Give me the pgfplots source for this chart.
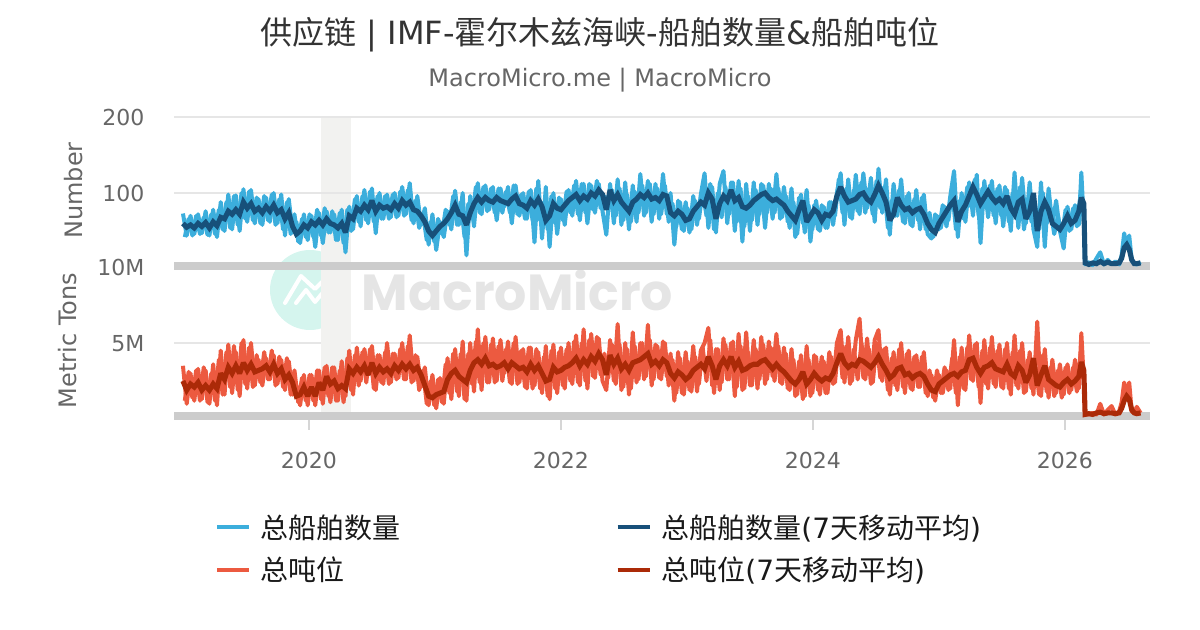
\documentclass[border=0pt]{standalone}
\usepackage{fontspec}
\usepackage{pgfplots}
\usepackage{pgfplotstable}
\pgfplotsset{compat=1.18}
\setmainfont{DejaVu Sans}
\newfontfamily\cjk{Noto Sans CJK SC}
\newfontfamily\wm{Poppins}
\definecolor{cnt}{HTML}{3CAEDC}
\definecolor{cntavg}{HTML}{17507A}
\definecolor{ton}{HTML}{EC5A40}
\definecolor{tonavg}{HTML}{AB2A08}
\definecolor{gridc}{HTML}{E6E6E6}
\definecolor{bandc}{HTML}{CCCCCC}
\definecolor{shade}{HTML}{F2F2F0}
\definecolor{txt}{HTML}{666666}
\pgfplotstableread{
x c t
2019.015 42 1.2
2019.045 66 3.1
2019.075 44 1.4
2019.105 70 3.2
2019.135 46 1.2
2019.165 68 3.4
2019.195 45 1.1
2019.225 72 3.0
2019.255 46 1.2
2019.285 78 3.9
2019.315 52 1.6
2019.345 88 4.4
2019.375 54 2.1
2019.405 96 4.8
2019.435 58 1.9
2019.465 100 5.0
2019.495 66 2.3
2019.525 102 4.7
2019.555 64 2.1
2019.585 94 4.2
2019.615 60 2.4
2019.645 96 4.4
2019.675 64 2.6
2019.705 98 4.5
2019.735 58 2.2
2019.765 92 4.1
2019.795 52 2.1
2019.825 88 4.0
2019.855 46 1.6
2019.885 72 3.2
2019.915 36 1.1
2019.945 66 2.7
2019.975 42 1.2
2020.005 72 2.9
2020.035 42 1.2
2020.065 78 3.2
2020.095 44 1.3
2020.125 80 3.4
2020.155 48 1.5
2020.185 76 3.4
2020.215 38 1.2
2020.245 74 3.2
2020.275 34 1.1
2020.305 78 4.0
2020.335 50 1.9
2020.365 92 4.2
2020.395 62 2.2
2020.425 96 4.4
2020.455 64 2.4
2020.485 102 4.6
2020.515 62 2.0
2020.545 96 4.2
2020.575 66 2.4
2020.605 96 4.4
2020.635 66 2.3
2020.665 98 4.3
2020.695 68 2.6
2020.725 102 4.6
2020.755 70 2.6
2020.785 104 4.8
2020.815 64 2.4
2020.845 90 4.2
2020.875 54 1.9
2020.905 72 3.2
2020.935 38 1.0
2020.965 62 2.5
2020.995 36 0.9
2021.025 66 2.6
2021.055 46 1.1
2021.085 78 3.6
2021.115 58 1.7
2021.145 96 4.3
2021.175 58 1.8
2021.205 88 4.3
2021.235 42 1.3
2021.265 86 4.3
2021.295 68 2.3
2021.325 108 5.1
2021.355 74 2.4
2021.385 108 5.0
2021.415 76 2.4
2021.445 106 4.9
2021.475 74 2.4
2021.505 106 4.8
2021.535 74 2.5
2021.565 102 4.6
2021.595 74 2.4
2021.625 110 5.0
2021.655 72 2.3
2021.685 98 4.5
2021.715 66 2.1
2021.745 102 4.7
2021.775 64 2.0
2021.805 106 4.6
2021.835 64 2.0
2021.865 88 4.1
2021.895 52 1.5
2021.925 96 4.5
2021.955 60 2.0
2021.985 94 4.4
2022.015 64 2.2
2022.045 102 4.6
2022.075 74 2.5
2022.105 110 5.1
2022.135 72 2.4
2022.165 112 5.0
2022.195 74 2.5
2022.225 112 5.2
2022.255 78 2.8
2022.285 116 5.4
2022.315 80 2.9
2022.345 96 4.3
2022.375 78 2.7
2022.405 104 4.9
2022.435 70 2.3
2022.465 106 4.9
2022.495 64 2.1
2022.525 98 4.6
2022.555 62 2.0
2022.585 102 4.8
2022.615 74 2.6
2022.645 110 5.0
2022.675 74 2.8
2022.705 112 5.2
2022.735 72 2.6
2022.765 106 4.8
2022.795 72 2.6
2022.825 110 5.0
2022.855 62 2.2
2022.885 86 3.9
2022.915 56 1.7
2022.945 88 4.0
2022.975 50 1.6
2023.005 80 3.8
2023.035 52 1.8
2023.065 90 4.1
2023.095 66 2.3
2023.125 102 4.7
2023.155 70 2.5
2023.185 112 5.2
2023.215 52 1.7
2023.245 100 4.6
2023.275 68 2.4
2023.305 108 4.9
2023.335 72 2.6
2023.365 114 5.1
2023.395 62 2.1
2023.425 106 4.8
2023.455 56 2.0
2023.485 96 4.4
2023.515 64 2.2
2023.545 104 4.6
2023.575 72 2.6
2023.605 110 4.9
2023.635 74 2.6
2023.665 106 4.7
2023.695 74 2.5
2023.725 106 4.8
2023.755 68 2.3
2023.785 96 4.3
2023.815 54 1.9
2023.845 88 3.9
2023.875 46 1.6
2023.905 98 4.2
2023.935 48 1.5
2023.965 84 3.9
2023.995 52 1.7
2024.025 90 4.1
2024.055 50 1.6
2024.085 82 3.8
2024.115 54 1.7
2024.145 88 4.1
2024.175 70 2.4
2024.205 118 5.3
2024.235 74 2.7
2024.265 106 4.8
2024.295 68 2.3
2024.325 104 4.6
2024.355 76 2.6
2024.385 114 5.0
2024.415 74 2.6
2024.445 106 4.6
2024.475 72 2.4
2024.505 116 5.0
2024.535 80 2.7
2024.565 108 4.6
2024.595 54 1.9
2024.625 90 4.0
2024.655 70 2.2
2024.685 104 4.6
2024.715 62 2.1
2024.745 96 4.3
2024.775 58 2.0
2024.805 92 4.1
2024.835 64 2.1
2024.865 94 4.1
2024.895 52 1.7
2024.925 74 3.2
2024.955 42 1.4
2024.985 70 3.2
2025.015 54 1.7
2025.045 82 3.4
2025.075 64 1.9
2025.105 104 4.0
2025.135 52 1.7
2025.165 90 4.1
2025.195 66 2.0
2025.225 108 4.7
2025.255 82 2.6
2025.285 118 4.9
2025.315 70 2.1
2025.345 106 4.5
2025.375 80 2.3
2025.405 110 4.7
2025.435 70 2.3
2025.465 106 4.5
2025.495 70 2.1
2025.525 108 4.6
2025.555 62 2.0
2025.585 100 4.4
2025.615 66 2.2
2025.645 108 4.5
2025.675 52 1.7
2025.705 92 3.9
2025.735 62 2.0
2025.765 82 3.6
2025.795 52 1.6
2025.825 100 4.2
2025.855 60 1.8
2025.885 78 3.4
2025.915 46 1.5
2025.945 70 3.2
2025.975 42 1.4
2026.005 78 3.4
2026.035 50 1.7
2026.065 80 3.4
2026.095 56 1.8
2026.125 100 4.4
}\rawmid
\pgfplotstableread{
x c a t b
2019.00 73 60 3.5 2.5
2019.03 44 55 1.0 1.9
2019.06 70 58 3.0 2.3
2019.09 46 54 1.2 2.1
2019.12 72 60 3.3 2.4
2019.15 47 56 1.3 1.9
2019.18 76 61 3.2 2.2
2019.21 44 54 1.0 1.9
2019.24 78 62 3.6 2.3
2019.27 42 57 0.9 2.0
2019.30 88 68 4.5 3.0
2019.33 50 66 1.6 2.6
2019.36 98 76 4.9 3.4
2019.39 52 72 1.7 3.0
2019.42 97 78 4.4 3.5
2019.45 50 72 1.5 3.0
2019.48 105 88 5.2 3.7
2019.51 62 80 2.0 3.2
2019.54 104 86 5.0 3.6
2019.57 60 76 2.2 3.1
2019.60 92 80 3.9 3.2
2019.63 58 74 2.2 3.3
2019.66 94 82 4.0 3.5
2019.69 62 76 2.6 3.1
2019.72 100 84 4.2 3.6
2019.75 60 74 2.3 3.0
2019.78 98 78 3.9 3.3
2019.81 44 66 1.9 2.6
2019.84 92 74 3.8 2.9
2019.87 48 56 1.6 2.4
2019.90 62 46 2.2 1.5
2019.93 34 50 0.9 1.6
2019.96 72 58 2.9 2.1
2019.99 38 54 0.9 1.5
2020.02 70 62 2.9 2.1
2020.05 29 58 0.9 1.5
2020.08 74 64 3.2 2.4
2020.11 34 58 1.0 1.9
2020.14 76 66 3.5 2.8
2020.17 48 60 1.1 2.3
2020.20 72 58 3.4 2.5
2020.23 38 54 1.2 2.0
2020.26 78 60 3.8 2.2
2020.29 22 48 1.5 2.0
2020.32 82 70 4.5 3.3
2020.35 52 66 1.6 3.0
2020.38 96 80 4.7 3.4
2020.41 56 76 2.5 3.1
2020.44 104 84 4.6 3.5
2020.47 60 78 2.9 2.9
2020.50 106 90 4.8 3.7
2020.53 47 76 1.9 3.0
2020.56 100 84 4.2 3.4
2020.59 66 80 2.3 3.1
2020.62 98 82 5.0 3.3
2020.65 68 78 2.4 3.0
2020.68 100 86 4.3 3.5
2020.71 70 80 2.7 3.2
2020.74 108 90 5.0 3.6
2020.77 72 84 2.6 3.3
2020.80 113 88 5.5 3.6
2020.83 60 78 2.5 3.2
2020.86 96 76 4.1 3.4
2020.89 58 70 2.1 2.9
2020.92 80 62 3.4 2.2
2020.95 32 50 0.9 1.5
2020.98 72 44 2.9 1.4
2021.01 25 50 0.7 1.6
2021.04 62 56 2.7 1.7
2021.07 42 60 1.0 1.8
2021.10 76 66 4.0 2.6
2021.13 52 74 1.3 3.0
2021.16 103 84 4.6 3.2
2021.19 58 72 1.5 2.8
2021.22 100 70 5.1 2.6
2021.25 18 58 1.2 2.4
2021.28 96 74 5.0 3.2
2021.31 56 86 1.8 3.7
2021.34 113 94 5.9 3.9
2021.37 72 88 1.9 3.6
2021.40 110 94 5.4 4.0
2021.43 78 90 2.4 3.5
2021.46 108 88 5.3 3.6
2021.49 64 94 2.5 3.4
2021.52 106 90 5.2 3.5
2021.55 82 88 3.0 3.7
2021.58 108 86 5.1 3.3
2021.61 60 92 2.3 3.7
2021.64 110 96 5.4 3.5
2021.67 70 86 2.4 3.3
2021.70 100 84 4.6 3.4
2021.73 66 80 2.0 3.1
2021.76 104 90 4.7 3.6
2021.79 35 84 2.2 3.2
2021.82 116 92 4.4 3.5
2021.85 40 82 1.7 3.0
2021.88 108 64 4.8 2.5
2021.91 29 70 1.3 2.6
2021.94 100 86 4.9 3.4
2021.97 46 80 1.7 3.1
2022.00 92 78 4.7 3.2
2022.03 58 84 2.0 3.4
2022.06 104 90 5.0 3.5
2022.09 70 94 2.3 3.7
2022.12 116 98 5.5 4.0
2022.15 64 90 2.2 3.5
2022.18 112 96 5.9 3.9
2022.21 60 92 2.0 3.6
2022.24 110 100 5.6 4.1
2022.27 74 96 2.7 3.8
2022.30 112 104 5.3 4.3
2022.33 76 98 2.5 3.9
2022.36 45 78 1.9 2.9
2022.39 112 104 5.2 4.2
2022.42 60 90 2.5 3.6
2022.45 118 98 6.25 4.0
2022.48 58 88 1.9 3.3
2022.51 114 82 5.0 3.6
2022.54 52 76 1.6 3.2
2022.57 110 88 5.7 3.7
2022.60 62 92 2.4 3.8
2022.63 125 98 5.0 3.9
2022.66 70 94 2.6 4.1
2022.69 116 100 6.2 4.3
2022.72 62 92 2.2 3.6
2022.75 112 94 4.9 3.8
2022.78 66 90 2.7 3.5
2022.81 125 98 5.1 3.9
2022.84 72 96 2.8 3.7
2022.87 100 74 4.3 3.0
2022.90 32 70 1.2 2.7
2022.93 90 76 4.4 3.1
2022.96 52 72 1.7 2.9
2022.99 88 64 4.4 2.6
2023.02 48 66 1.9 2.8
2023.05 96 76 4.8 3.2
2023.08 58 82 1.8 3.4
2023.11 98 88 4.5 3.6
2023.14 126 84 5.0 3.3
2023.17 54 100 6.0 4.1
2023.20 108 92 2.2 3.5
2023.23 48 66 4.6 2.6
2023.26 112 86 1.9 3.5
2023.29 129 96 5.3 3.9
2023.32 60 90 2.6 3.5
2023.35 114 104 5.0 4.1
2023.38 50 90 1.5 3.4
2023.41 116 94 5.6 3.8
2023.44 36 82 1.9 3.2
2023.47 112 80 5.7 3.3
2023.50 50 84 2.2 3.5
2023.53 114 90 5.2 3.6
2023.56 58 94 2.0 3.6
2023.59 112 98 5.4 3.8
2023.62 54 100 2.3 3.9
2023.65 112 94 5.1 3.6
2023.68 66 90 2.8 3.3
2023.71 125 92 5.6 3.6
2023.74 66 88 2.4 3.3
2023.77 108 84 4.7 3.1
2023.80 62 76 2.0 2.8
2023.83 106 70 4.6 2.5
2023.86 42 64 1.5 2.3
2023.89 94 78 3.8 2.6
2023.92 60 90 1.3 3.1
2023.95 104 62 4.8 2.3
2023.98 36 70 1.5 2.6
2024.01 84 78 4.2 3.0
2024.04 52 74 1.9 2.7
2024.07 84 64 4.1 2.5
2024.10 54 72 1.7 2.7
2024.13 88 70 4.4 2.6
2024.16 58 76 2.3 3.0
2024.19 100 96 5.0 3.7
2024.22 126 108 5.85 4.3
2024.25 58 96 2.4 3.7
2024.28 118 88 5.4 3.4
2024.31 66 90 2.5 3.6
2024.34 124 92 5.2 3.5
2024.37 72 98 6.6 3.9
2024.40 126 100 2.7 3.8
2024.43 80 92 5.3 3.6
2024.46 120 88 2.3 3.4
2024.49 62 98 5.2 3.7
2024.52 132 110 5.85 4.1
2024.55 74 100 2.5 3.6
2024.58 118 88 4.7 3.2
2024.61 45 64 1.6 2.7
2024.64 112 72 4.4 2.9
2024.67 70 94 1.9 3.3
2024.70 118 84 5.0 3.4
2024.73 60 78 1.7 2.9
2024.76 100 80 4.5 3.0
2024.79 56 74 1.9 2.7
2024.82 104 78 4.2 2.9
2024.85 52 80 2.1 3.0
2024.88 98 72 4.4 2.8
2024.91 46 60 1.5 2.3
2024.94 40 52 2.9 1.9
2024.97 72 48 1.2 1.8
2025.00 52 60 2.9 2.3
2025.03 84 68 1.7 2.5
2025.06 56 76 3.2 2.7
2025.09 96 84 2.0 2.9
2025.12 129 90 5.2 3.0
2025.15 42 62 0.9 2.8
2025.18 100 76 4.7 3.1
2025.21 62 84 1.9 3.2
2025.24 114 96 5.5 3.9
2025.27 70 108 2.5 4.0
2025.30 124 98 5.0 3.4
2025.33 34 86 1.05 3.0
2025.36 116 94 5.2 3.4
2025.39 68 102 2.0 3.5
2025.42 116 94 5.4 3.7
2025.45 60 88 2.1 3.3
2025.48 110 92 4.9 3.2
2025.51 56 86 2.0 3.1
2025.54 104 96 5.0 3.6
2025.57 50 80 1.6 3.0
2025.60 127 72 5.5 2.8
2025.63 54 88 2.0 3.5
2025.66 120 92 5.0 3.2
2025.69 60 66 1.8 2.4
2025.72 114 76 4.4 2.9
2025.75 52 100 1.6 4.0
2025.78 29 50 6.4 2.2
2025.81 114 76 1.5 2.9
2025.84 29 88 4.6 3.5
2025.87 106 78 1.4 2.6
2025.90 58 60 3.9 2.4
2025.93 90 56 1.7 2.2
2025.96 50 52 3.6 2.1
2025.99 27 60 1.6 2.4
2026.02 82 70 3.6 2.6
2026.05 52 60 1.9 2.3
2026.08 84 64 3.9 2.5
2026.11 58 76 2.0 2.8
2026.13 127 94 5.65 3.75
2026.15 60 86 2.5 3.2
2026.16 6 8 0.3 0.3
2026.19 9 6 0.3 0.35
2026.22 5 8 0.4 0.3
2026.25 14 7 0.3 0.4
2026.28 22 10 1.0 0.45
2026.31 6 7 0.3 0.35
2026.34 12 9 0.6 0.4
2026.37 6 7 0.85 0.4
2026.40 10 7 0.3 0.35
2026.43 6 8 0.5 0.4
2026.45 18 14 1.1 0.7
2026.47 47 28 2.4 1.2
2026.49 30 32 1.6 1.5
2026.51 44 26 2.4 1.3
2026.53 12 12 0.5 0.6
2026.55 7 7 0.4 0.4
2026.57 6 7 0.8 0.35
2026.60 9 8 0.4 0.4
}\shipdata
\pgfplotsset{
  base/.style={
    scale only axis, width=732pt, height=114pt,
    xmin=2018.929, xmax=2026.675,
    axis line style={draw=none},
    ymajorgrids, major grid style={gridc,line width=1.5pt},
    ytick style={draw=none}, major tick length=0pt,
    tick label style={font=\fontsize{16.5pt}{18pt}\selectfont,text=txt},
    yticklabel style={xshift=-18.7pt,yshift=-0.7pt},
    clip=false,
  },
  raw/.style={no marks,line join=round,line width=3pt},
  avg/.style={no marks,line join=miter,miter limit=2.5,line width=3.8pt},
}
\begin{document}
\begin{tikzpicture}
\path[use as bounding box] (0pt,0pt) rectangle (900pt,472.5pt);
\node[text=black!80,anchor=center] at (450pt,446.8pt) {\fontsize{24pt}{28pt}\selectfont{\cjk 供应链} | IMF-{\cjk 霍尔木兹海峡}-{\cjk 船舶数量}\&{\cjk 船舶吨位}};
\node[text=txt,anchor=center] at (450pt,412.5pt) {\fontsize{18pt}{20pt}\selectfont MacroMicro.me | MacroMicro};
% watermark
\fill[color={rgb,255:red,213;green,245;blue,238}] (232.5pt,255pt) circle (30pt);
\draw[white,line width=3pt,line join=round,line cap=round] (213.75pt,245.25pt) -- (225.75pt,265.5pt) -- (236.25pt,255.75pt) -- (241.5pt,261pt);
\draw[white,line width=3pt,line join=round,line cap=round] (222pt,245.25pt) -- (229.5pt,255pt) -- (236.25pt,246pt) -- (243.75pt,255pt) -- (249.75pt,245.25pt);
\draw[white,line width=2pt] (245.25pt,265.5pt) circle (3.4pt);
\node[text=black!10,anchor=center] at (388pt,255pt) {\wm\bfseries\fontsize{38pt}{40pt}\selectfont MacroMicro};
% lower panel
\begin{axis}[base, at={(130.5pt,158.25pt)}, anchor=south west,
  ymin=0, ymax=10, ytick={5,10}, yticklabels={5M,10M},
  xtick={2020,2022,2024,2026}, xticklabels={2020,2022,2024,2026},
  major tick length=8pt, tick align=outside, xtick pos=bottom,
  xtick style={draw=bandc!80,line width=1.5pt}, x tick label style={yshift=-13pt},
  yticklabel style={xshift=8pt},
  ylabel={Metric Tons}, ylabel style={font=\fontsize{18pt}{20pt}\selectfont,text=txt,at={(axis description cs:-0.1086,0.516)},anchor=center},
]
\addplot[fill=shade,draw=none,forget plot] coordinates {(2020.095,0.2)(2020.333,0.2)(2020.333,19.87)(2020.095,19.87)} -- cycle;
\addplot[bandc,line width=6pt,forget plot] coordinates {(2018.929,0.2)(2026.675,0.2)};
\addplot[ton,raw,forget plot] table[x=x,y=t] {\rawmid};
\addplot[ton,raw] table[x=x,y=t] {\shipdata};
\addplot[tonavg,avg] table[x=x,y=b] {\shipdata};
\end{axis}
% upper panel
\begin{axis}[base, at={(130.5pt,270.75pt)}, anchor=south west,
  ymin=0, ymax=200, ytick={100,200}, xtick=\empty,
  ylabel={Number}, ylabel style={font=\fontsize{18pt}{20pt}\selectfont,text=txt,at={(axis description cs:-0.1025,0.516)},anchor=center},
  /pgf/number format/assume math mode=true,
  legend columns=2,
  legend image code/.code={\draw[#1,line width=3pt] (0pt,0pt) -- (24pt,0pt);},
  legend cell align=left,
  legend style={draw=none,fill=none,at={(0.042,-1.613)},anchor=north west,inner sep=0pt,
    font=\fontsize{21pt}{24pt}\selectfont, text=black!90,
    nodes={inner sep=0pt}, row sep=12.75pt,
    /tikz/column 1/.style={column sep=7.3pt},
    /tikz/column 2/.style={column sep=161pt},
    /tikz/column 3/.style={column sep=7.3pt}},
]
\addplot[bandc,line width=6pt,forget plot] coordinates {(2018.929,3.9)(2026.675,3.9)};
\addplot[cnt,raw,forget plot] table[x=x,y=c] {\rawmid};
\addplot[cnt,raw] table[x=x,y=c] {\shipdata};
\addlegendentry{{\cjk 总船舶数量}}
\addplot[cntavg,avg] table[x=x,y=a] {\shipdata};
\addlegendentry{{\cjk 总船舶数量}(7{\cjk 天移动平均})}
\addlegendimage{ton}
\addlegendentry{{\cjk 总吨位}}
\addlegendimage{tonavg}
\addlegendentry{{\cjk 总吨位}(7{\cjk 天移动平均})}
\end{axis}
\end{tikzpicture}
\end{document}
